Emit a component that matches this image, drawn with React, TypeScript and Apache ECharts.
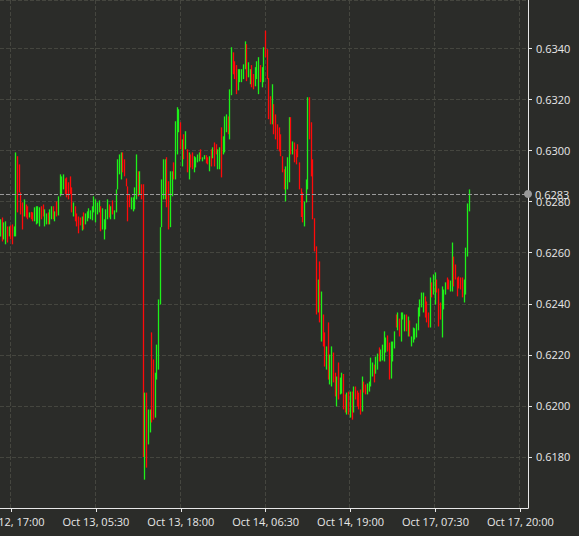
import React, { useEffect, useRef } from "react";
import * as echarts from "echarts";

// ---- time slots (15-minute candles, UTC, weekend gap skipped) ----
const SESSION_START_UTC = Date.UTC(2022, 9, 12, 15, 30);
const STEP_MIN = 15;
const SLOT_COUNT = 311;
const WEEKEND_CLOSE_UTC = Date.UTC(2022, 9, 14, 21, 0);
const WEEKEND_GAP_HOURS = 48;
const LABEL_EVERY = 50;
const LABEL_OFFSET = 6;
const MONTHS = ["Jan", "Feb", "Mar", "Apr", "May", "Jun", "Jul", "Aug", "Sep", "Oct", "Nov", "Dec"];

// ---- y axis ----
const Y_MIN = 0.616;
const Y_MAX = 0.6359;
const Y_INTERVAL = 0.002;

// ---- candles: [open, close, low, high] ----
const candlesOct12: number[][] = [
  [0.6267, 0.6272, 0.62664, 0.62731], [0.6273, 0.6265, 0.62644, 0.62738], [0.6266, 0.6271, 0.62652, 0.62719],
  [0.6264, 0.6271, 0.62633, 0.62723], [0.627, 0.6265, 0.6264, 0.62703], [0.6267, 0.627, 0.62664, 0.62703],
  [0.627, 0.6266, 0.62652, 0.62707], [0.627, 0.6264, 0.62633, 0.62711], [0.6266, 0.627, 0.62664, 0.62703],
  [0.6268, 0.6297, 0.62664, 0.62993], [0.6296, 0.6278, 0.62758, 0.62978], [0.6294, 0.6285, 0.62836, 0.62946],
  [0.6283, 0.6276, 0.6275, 0.62836], [0.6279, 0.627, 0.62691, 0.62797], [0.6275, 0.628, 0.62742, 0.62809],
  [0.6279, 0.6275, 0.62738, 0.62789], [0.6278, 0.6274, 0.62731, 0.62782], [0.6274, 0.6276, 0.62738, 0.62758],
  [0.6276, 0.6274, 0.62731, 0.6276], [0.6275, 0.6273, 0.62723, 0.62758], [0.6273, 0.6277, 0.62723, 0.62778],
  [0.6272, 0.6277, 0.62711, 0.62782], [0.6273, 0.6277, 0.62715, 0.62782], [0.6271, 0.6277, 0.62703, 0.62778],
  [0.6278, 0.6274, 0.62731, 0.62782], [0.6278, 0.6275, 0.62742, 0.62789], [0.6271, 0.6276, 0.62703, 0.6277],
  [0.6272, 0.6275, 0.62711, 0.62754], [0.6275, 0.6272, 0.62711, 0.62758], [0.6272, 0.6277, 0.62711, 0.6277],
  [0.6274, 0.6278, 0.62731, 0.62782], [0.6278, 0.6274, 0.62731, 0.62782], [0.6273, 0.6276, 0.62723, 0.62762],
  [0.628, 0.6275, 0.62742, 0.62801],
];

const candlesOct13: number[][] = [
  [0.6275, 0.6281, 0.62746, 0.62821], [0.6282, 0.629, 0.62821, 0.62907], [0.6283, 0.6289, 0.62829, 0.62899],
  [0.6285, 0.629, 0.62848, 0.62907], [0.6289, 0.6283, 0.62829, 0.62891], [0.6289, 0.6282, 0.62817, 0.62895],
  [0.6287, 0.6281, 0.62809, 0.62876], [0.6289, 0.6283, 0.62829, 0.62899], [0.6285, 0.6276, 0.62758, 0.62856],
  [0.6275, 0.6279, 0.62742, 0.62797], [0.6278, 0.6273, 0.62723, 0.62782], [0.6275, 0.6271, 0.62703, 0.62754],
  [0.6274, 0.6268, 0.62676, 0.62742], [0.6273, 0.6271, 0.62707, 0.62738], [0.6269, 0.6274, 0.62687, 0.62742],
  [0.6275, 0.627, 0.62691, 0.62758], [0.6272, 0.6275, 0.62711, 0.62754], [0.6273, 0.6276, 0.62723, 0.62762],
  [0.6274, 0.6277, 0.62735, 0.62774], [0.6274, 0.6276, 0.62731, 0.62766], [0.6273, 0.6278, 0.62727, 0.62782],
  [0.6276, 0.6281, 0.62758, 0.62821], [0.6273, 0.628, 0.62719, 0.62809], [0.6276, 0.6279, 0.6275, 0.62797],
  [0.6276, 0.628, 0.62758, 0.62805], [0.6278, 0.627, 0.62684, 0.62782], [0.627, 0.6277, 0.62691, 0.62774],
  [0.6266, 0.6272, 0.62652, 0.62731], [0.627, 0.6276, 0.62691, 0.6277], [0.6274, 0.628, 0.62731, 0.62809],
  [0.6279, 0.6275, 0.62738, 0.62789], [0.6274, 0.6278, 0.62731, 0.62782], [0.628, 0.6276, 0.6275, 0.62805],
  [0.6274, 0.6276, 0.62731, 0.62766], [0.6276, 0.6284, 0.62758, 0.62848], [0.6285, 0.6296, 0.62848, 0.62966],
  [0.6291, 0.6298, 0.62907, 0.62985], [0.6289, 0.6298, 0.62887, 0.62993], [0.6299, 0.6292, 0.62915, 0.62993],
  [0.6296, 0.629, 0.62899, 0.62966], [0.6289, 0.6287, 0.6286, 0.62891], [0.6286, 0.6273, 0.62723, 0.6286],
  [0.6282, 0.6279, 0.62778, 0.62829], [0.6278, 0.6281, 0.6277, 0.62817], [0.6277, 0.6281, 0.62762, 0.62817],
  [0.6278, 0.6285, 0.6277, 0.62856], [0.6281, 0.6297, 0.62809, 0.62985], [0.6292, 0.6283, 0.62821, 0.62919],
  [0.6283, 0.6291, 0.62829, 0.62919], [0.6288, 0.6282, 0.62809, 0.62868], [0.6284, 0.6182, 0.618, 0.62868],
  [0.6176, 0.6203, 0.61711, 0.62052], [0.6205, 0.6177, 0.61758, 0.62052], [0.6186, 0.6197, 0.61849, 0.61986],
  [0.619, 0.6198, 0.61896, 0.61986], [0.6226, 0.6196, 0.61935, 0.62288], [0.6216, 0.6196, 0.61946, 0.62182],
  [0.6197, 0.6212, 0.61954, 0.6213], [0.6211, 0.6223, 0.62103, 0.6224], [0.6216, 0.624, 0.62142, 0.62417],
  [0.6241, 0.6269, 0.62397, 0.627], [0.6271, 0.6288, 0.627, 0.62887], [0.6282, 0.6295, 0.62809, 0.62966],
  [0.6283, 0.6294, 0.62809, 0.62966], [0.6293, 0.628, 0.62778, 0.62974], [0.6287, 0.627, 0.62691, 0.6288],
  [0.6272, 0.6289, 0.627, 0.62919], [0.6283, 0.629, 0.62821, 0.62919], [0.6295, 0.6289, 0.62887, 0.62954],
  [0.6289, 0.6311, 0.62887, 0.63115], [0.63, 0.6316, 0.62985, 0.6317], [0.6308, 0.6316, 0.63072, 0.63162],
  [0.6311, 0.6301, 0.63005, 0.63111], [0.6295, 0.6304, 0.62938, 0.63044], [0.6305, 0.6297, 0.62966, 0.63064],
  [0.6301, 0.6307, 0.63005, 0.63076], [0.63, 0.6292, 0.62915, 0.63005], [0.629, 0.6299, 0.62887, 0.62993],
  [0.6298, 0.6294, 0.62934, 0.62985], [0.6299, 0.6293, 0.62927, 0.62993], [0.6293, 0.6297, 0.62915, 0.62978],
  [0.6294, 0.6297, 0.62934, 0.62974], [0.6295, 0.6298, 0.62954, 0.62985], [0.6296, 0.6299, 0.62958, 0.62993],
  [0.63, 0.6297, 0.62966, 0.63005], [0.6296, 0.6297, 0.62958, 0.62974], [0.6297, 0.6298, 0.62966, 0.62982],
  [0.6298, 0.6296, 0.6295, 0.62982], [0.6297, 0.6295, 0.62946, 0.62974], [0.6292, 0.6297, 0.62919, 0.62978],
  [0.63, 0.6294, 0.62938, 0.63005], [0.6297, 0.63, 0.6297, 0.63013], [0.6302, 0.6294, 0.62938, 0.63032],
  [0.6302, 0.6299, 0.62985, 0.63025], [0.6293, 0.63, 0.62927, 0.63005], [0.6293, 0.6301, 0.62927, 0.63013],
];

const candlesOct14: number[][] = [
  [0.6309, 0.629, 0.62895, 0.63091], [0.6299, 0.6305, 0.62985, 0.63056], [0.63, 0.6313, 0.62993, 0.63134],
  [0.6308, 0.6314, 0.63072, 0.63142], [0.6313, 0.6307, 0.63064, 0.63134], [0.6305, 0.6322, 0.63044, 0.6324],
  [0.6323, 0.6339, 0.63217, 0.63405], [0.6338, 0.633, 0.63299, 0.63385], [0.6334, 0.6328, 0.6328, 0.6335],
  [0.6333, 0.6323, 0.63221, 0.63335], [0.6324, 0.6331, 0.63236, 0.63319], [0.6327, 0.6331, 0.63268, 0.63319],
  [0.6328, 0.6331, 0.63268, 0.63319], [0.6329, 0.6333, 0.6328, 0.63338], [0.6332, 0.6342, 0.63319, 0.63428],
  [0.6341, 0.6329, 0.63272, 0.63417], [0.6329, 0.6334, 0.63287, 0.63346], [0.6327, 0.6331, 0.6326, 0.63319],
  [0.6333, 0.6326, 0.63248, 0.63335], [0.633, 0.6325, 0.6324, 0.633], [0.6326, 0.6332, 0.63252, 0.63327],
  [0.6329, 0.6334, 0.6328, 0.6335], [0.6323, 0.6335, 0.63221, 0.63366], [0.6333, 0.6327, 0.63268, 0.63335],
  [0.6326, 0.6332, 0.63248, 0.63327], [0.6328, 0.634, 0.63268, 0.63405], [0.6343, 0.6337, 0.63366, 0.6347],
  [0.6339, 0.6328, 0.6328, 0.63397], [0.6328, 0.6313, 0.63123, 0.63284], [0.6318, 0.631, 0.63103, 0.63213],
  [0.631, 0.6325, 0.63103, 0.6326], [0.6318, 0.6307, 0.63064, 0.63182], [0.6314, 0.6305, 0.63044, 0.63142],
  [0.631, 0.6301, 0.63005, 0.63103], [0.6306, 0.63, 0.62997, 0.63091], [0.6306, 0.6298, 0.62978, 0.63064],
  [0.6298, 0.6293, 0.62915, 0.62978], [0.6293, 0.6286, 0.62848, 0.62927], [0.6281, 0.6293, 0.62801, 0.62938],
  [0.6285, 0.6296, 0.62848, 0.62974], [0.6288, 0.6312, 0.62876, 0.63131], [0.6312, 0.6299, 0.62985, 0.63131],
  [0.6299, 0.6303, 0.62985, 0.63036], [0.6303, 0.6297, 0.62954, 0.63032], [0.63, 0.6295, 0.62946, 0.63005],
  [0.6302, 0.6298, 0.62974, 0.63025], [0.6295, 0.6285, 0.62848, 0.62954], [0.6285, 0.6275, 0.6274, 0.62852],
  [0.6283, 0.6273, 0.62719, 0.62836], [0.6272, 0.6279, 0.62703, 0.62801], [0.628, 0.6288, 0.62797, 0.62887],
  [0.6286, 0.632, 0.62848, 0.63209], [0.632, 0.6305, 0.63044, 0.63209], [0.631, 0.629, 0.62899, 0.63111],
  [0.6294, 0.6274, 0.62731, 0.62966], [0.6273, 0.6261, 0.62605, 0.62735], [0.6262, 0.6236, 0.62358, 0.62625],
  [0.6237, 0.6248, 0.62366, 0.62495], [0.625, 0.6234, 0.62327, 0.62566], [0.6233, 0.6245, 0.62252, 0.62448],
  [0.6235, 0.6225, 0.62233, 0.62358], [0.6228, 0.6216, 0.62154, 0.62288], [0.6216, 0.6224, 0.62142, 0.62233],
  [0.623, 0.6211, 0.62103, 0.62327], [0.621, 0.6219, 0.62084, 0.62201], [0.6211, 0.6223, 0.62076, 0.62233],
  [0.622, 0.621, 0.62092, 0.62209], [0.6212, 0.6204, 0.62037, 0.6213], [0.6203, 0.6211, 0.61998, 0.62115],
  [0.6216, 0.6203, 0.62025, 0.6217], [0.6205, 0.621, 0.62045, 0.62111], [0.6205, 0.6212, 0.62048, 0.6213],
  [0.6212, 0.6199, 0.61986, 0.62125], [0.6204, 0.6198, 0.61974, 0.62045], [0.6197, 0.6204, 0.61966, 0.62052],
  [0.6205, 0.6197, 0.61966, 0.62056], [0.6197, 0.6205, 0.61954, 0.62056], [0.6205, 0.6196, 0.61946, 0.62056],
  [0.6198, 0.6206, 0.61974, 0.62076], [0.6207, 0.6203, 0.62025, 0.62076], [0.6206, 0.62, 0.61998, 0.6206],
  [0.6205, 0.6199, 0.61986, 0.62052], [0.6206, 0.6197, 0.61966, 0.62064], [0.6199, 0.6211, 0.61978, 0.62115],
];

const candlesOct16to17: number[][] = [
  [0.621, 0.6206, 0.62052, 0.62095], [0.6208, 0.6205, 0.62045, 0.62084], [0.6205, 0.6208, 0.62045, 0.62088],
  [0.6206, 0.6209, 0.62056, 0.62095], [0.6208, 0.6217, 0.62076, 0.62189], [0.6214, 0.6217, 0.62115, 0.6217],
  [0.6216, 0.621, 0.62092, 0.62162], [0.6213, 0.6219, 0.62126, 0.62193], [0.6215, 0.622, 0.62142, 0.62205],
  [0.6222, 0.6218, 0.62174, 0.62229], [0.6218, 0.6221, 0.62174, 0.62221], [0.6218, 0.6223, 0.62178, 0.6224],
  [0.6218, 0.6228, 0.62174, 0.62292], [0.6222, 0.6226, 0.62209, 0.62268], [0.6227, 0.6222, 0.62213, 0.62276],
  [0.6224, 0.6211, 0.62103, 0.62248], [0.6211, 0.6224, 0.62107, 0.62252], [0.6218, 0.6224, 0.62174, 0.62252],
  [0.6223, 0.6228, 0.62225, 0.62292], [0.6235, 0.6231, 0.62307, 0.62358], [0.623, 0.6235, 0.62296, 0.62366],
  [0.6234, 0.6228, 0.62272, 0.62342], [0.6228, 0.6236, 0.62252, 0.62366], [0.6234, 0.6236, 0.62338, 0.62366],
  [0.623, 0.6235, 0.62292, 0.62358], [0.6235, 0.623, 0.62292, 0.62358], [0.6228, 0.6234, 0.62272, 0.6235],
  [0.6233, 0.6228, 0.62272, 0.62335], [0.6224, 0.6227, 0.62233, 0.62272], [0.6226, 0.623, 0.62248, 0.62307],
  [0.6227, 0.623, 0.6226, 0.62304], [0.6228, 0.6232, 0.62268, 0.62323], [0.623, 0.6238, 0.62296, 0.62386],
  [0.6236, 0.6241, 0.6235, 0.62417], [0.6239, 0.6243, 0.62386, 0.62444], [0.6237, 0.6243, 0.62366, 0.62444],
  [0.6242, 0.6236, 0.62346, 0.62429], [0.624, 0.6234, 0.62327, 0.62409], [0.6236, 0.6231, 0.62307, 0.62366],
  [0.6231, 0.6248, 0.62307, 0.62503], [0.6248, 0.6243, 0.62425, 0.62484], [0.6244, 0.625, 0.62436, 0.62515],
  [0.6241, 0.625, 0.62397, 0.62523], [0.6249, 0.6245, 0.62444, 0.62495], [0.6246, 0.6232, 0.62311, 0.6246],
  [0.624, 0.6235, 0.62338, 0.62405], [0.6228, 0.6245, 0.62268, 0.62468], [0.6238, 0.6245, 0.62378, 0.62456],
  [0.6245, 0.6248, 0.62436, 0.62484], [0.625, 0.6246, 0.62456, 0.62503], [0.6249, 0.6246, 0.62456, 0.62495],
  [0.6246, 0.6249, 0.62448, 0.62491], [0.6246, 0.6262, 0.62448, 0.6264], [0.6257, 0.6249, 0.62468, 0.62585],
  [0.6254, 0.625, 0.62495, 0.62554], [0.625, 0.6244, 0.62429, 0.62503], [0.625, 0.6246, 0.6246, 0.62507],
  [0.625, 0.6246, 0.62456, 0.62503], [0.6249, 0.6243, 0.62425, 0.62503], [0.6242, 0.6249, 0.62405, 0.62495],
  [0.6245, 0.6259, 0.62436, 0.6262], [0.6259, 0.6278, 0.62585, 0.62793], [0.6278, 0.6283, 0.62762, 0.62848],
];

const UP_COLOR = "#1ef01a";
const DOWN_COLOR = "#ff0a0a";
const TEXT_COLOR = "#e8e8e8";
const FONT = "Open Sans";

const pad = (n: number) => (n < 10 ? "0" + n : String(n));
const formatSlot = (t: number) => {
  const d = new Date(t);
  return `${MONTHS[d.getUTCMonth()]} ${d.getUTCDate()}, ${pad(d.getUTCHours())}:${pad(d.getUTCMinutes())}`;
};

export default function App() {
  const ref = useRef<HTMLDivElement>(null);

  useEffect(() => {
    if (!ref.current) return;
    const chart = echarts.init(ref.current, null, { renderer: "svg" });

    const categories: string[] = [];
    for (let k = 0; k < SLOT_COUNT; k++) {
      let t = SESSION_START_UTC + k * STEP_MIN * 60000;
      if (t >= WEEKEND_CLOSE_UTC) t += WEEKEND_GAP_HOURS * 3600000;
      categories.push(formatSlot(t));
    }
    const candles = [...candlesOct12, ...candlesOct13, ...candlesOct14, ...candlesOct16to17];
    const lastPrice = candles[candles.length - 1][1];
    const showAt = (i: number) => (i - LABEL_OFFSET) % LABEL_EVERY === 0;

    chart.setOption({
      animation: false,
      backgroundColor: "#2b2c29",
      grid: { left: 0, right: 51, top: 0, bottom: 28, containLabel: false, outerBoundsMode: "none" },
      xAxis: {
        type: "category",
        data: categories,
        boundaryGap: true,
        axisLine: { show: true, lineStyle: { color: TEXT_COLOR, width: 1 } },
        axisTick: { show: true, interval: showAt, alignWithLabel: true, length: 4, lineStyle: { color: TEXT_COLOR } },
        axisLabel: { interval: showAt, color: TEXT_COLOR, fontSize: 11, fontFamily: FONT, margin: 8 },
        splitLine: { show: true, interval: showAt, lineStyle: { type: "dashed", color: "#45463f", width: 1 } },
      },
      yAxis: {
        type: "value",
        position: "right",
        min: Y_MIN,
        max: Y_MAX,
        interval: Y_INTERVAL,
        axisLine: { show: true, lineStyle: { color: TEXT_COLOR, width: 1 } },
        axisTick: { show: true, length: 4, lineStyle: { color: TEXT_COLOR } },
        axisLabel: {
          color: TEXT_COLOR,
          fontSize: 11,
          fontFamily: FONT,
          margin: 8,
          showMinLabel: false,
          showMaxLabel: false,
          formatter: (v: number) => v.toFixed(4),
        },
        splitLine: { show: true, lineStyle: { type: "dashed", color: "#45463f", width: 1 } },
      },
      series: [
        {
          type: "candlestick",
          data: candles,
          barWidth: 1,
          itemStyle: {
            color: UP_COLOR,
            color0: DOWN_COLOR,
            borderColor: UP_COLOR,
            borderColor0: DOWN_COLOR,
            borderWidth: 1.3,
          },
          markLine: {
            silent: true,
            precision: 4,
            symbol: ["none", "circle"],
            symbolSize: 8,
            data: [{ yAxis: lastPrice }],
            lineStyle: { color: "#9a9a9a", type: "dashed", width: 1 },
            label: {
              show: true,
              position: "end",
              distance: 7,
              formatter: lastPrice.toFixed(4),
              color: TEXT_COLOR,
              fontSize: 11,
              fontFamily: FONT,
            },
          },
        },
      ],
    });

    return () => chart.dispose();
  }, []);

  return (
    <div
      ref={ref}
      style={{ position: "fixed", left: 0, top: 0, width: 579, height: 536 }}
    />
  );
}
